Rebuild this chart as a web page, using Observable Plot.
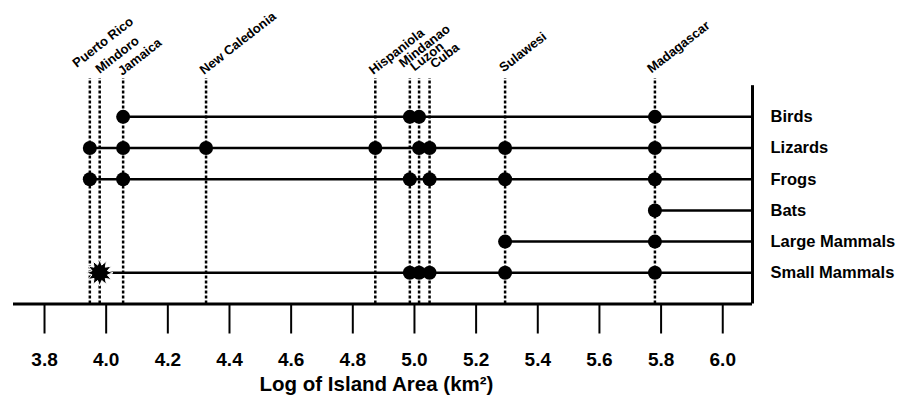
<!DOCTYPE html>
<html>
<head>
<meta charset="utf-8">
<script src="https://cdn.jsdelivr.net/npm/d3@7"></script>
<script src="https://cdn.jsdelivr.net/npm/@observablehq/plot@0.6"></script>
<style>
  html, body { margin: 0; padding: 0; background: #fff; }
  #chart { width: 909px; height: 405px; }
</style>
</head>
<body>
<div id="chart"></div>
<script>
// ---- data ----
const islands = ["Puerto Rico", "Mindoro", "Jamaica", "New Caledonia", "Hispaniola", "Mindanao", "Luzon", "Cuba", "Sulawesi", "Madagascar"];
const logArea = [3.947, 3.979, 4.055, 4.324, 4.873, 4.985, 5.015, 5.049, 5.294, 5.780];

const taxa = ["Birds", "Lizards", "Frogs", "Bats", "Large Mammals", "Small Mammals"];
const birds = ["Jamaica", "Mindanao", "Luzon", "Madagascar"];
const lizards = ["Puerto Rico", "Jamaica", "New Caledonia", "Hispaniola", "Luzon", "Cuba", "Sulawesi", "Madagascar"];
const frogs = ["Puerto Rico", "Jamaica", "Mindanao", "Cuba", "Sulawesi", "Madagascar"];
const bats = ["Madagascar"];
const largeMammals = ["Sulawesi", "Madagascar"];
const smallMammals = ["Mindoro", "Mindanao", "Luzon", "Cuba", "Sulawesi", "Madagascar"];
const smallMammalsStar = ["Mindoro"];

const xTicks = [3.8, 4.0, 4.2, 4.4, 4.6, 4.8, 5.0, 5.2, 5.4, 5.6, 5.8, 6.0];
const axisTitle = "Log of Island Area (km²)";

// ---- derived tables ----
const presence = [birds, lizards, frogs, bats, largeMammals, smallMammals];
const areaOf = new Map(islands.map((d, i) => [d, logArea[i]]));
const rowOf = (t) => taxa.length - taxa.indexOf(t);
const xDomain = [3.6994, 6.0965];
const yTop = 7.23;

const islandData = islands.map((name, i) => ({name, x: logArea[i]}));
const points = taxa.flatMap((t, i) => presence[i].map(isl => ({
  taxon: t, island: isl, x: areaOf.get(isl), y: rowOf(t),
  star: t === "Small Mammals" && smallMammalsStar.includes(isl)
})));
const rows = taxa.map((t, i) => ({
  taxon: t, y: rowOf(t),
  x1: d3.min(presence[i], isl => areaOf.get(isl)), x2: xDomain[1]
}));

// starburst symbol
const burst = {
  draw(ctx, size) {
    const R = Math.sqrt(size / Math.PI) * 1.9, r = R * 0.6, n = 12;
    for (let k = 0; k < 2 * n; k++) {
      const a = (k * Math.PI) / n - Math.PI / 2;
      const rr = k % 2 === 0 ? R : r;
      const px = rr * Math.cos(a), py = rr * Math.sin(a);
      if (k === 0) ctx.moveTo(px, py); else ctx.lineTo(px, py);
    }
    ctx.closePath();
  }
};

// label nudges (layout only)
const labelNudge = {
  "Puerto Rico": [-13, -10.5], "Mindoro": [0, -4.5], "Jamaica": [-1, -2.5],
  "Mindanao": [-6.6, -10.5], "Luzon": [-4.5, -7], "Cuba": [5, -9.5],
  "Sulawesi": [-1.5, -6], "Madagascar": [-3.5, -5]
};
const labelStyle = {x: "x", y: yTop, text: "name", rotate: -38, textAnchor: "start", lineAnchor: "bottom", fontSize: 13, fontWeight: "bold"};
const labelMarks = [
  Plot.text(islandData.filter(d => !(d.name in labelNudge)), {...labelStyle, dx: -2, dy: -3.5}),
  ...Object.entries(labelNudge).map(([name, [dx, dy]]) =>
    Plot.text(islandData.filter(d => d.name === name), {...labelStyle, dx, dy}))
];

const chart = Plot.plot({
  width: 909,
  height: 405,
  marginLeft: 13,
  marginRight: 157,
  marginTop: 78,
  marginBottom: 101.5,
  x: {domain: xDomain},
  y: {domain: [0, yTop]},
  style: {fontFamily: "'Liberation Sans', Arial, sans-serif", fontWeight: "bold", color: "black", background: "white"},
  marks: [
    Plot.ruleX(islandData, {x: "x", y1: 0, y2: yTop, stroke: "black", strokeWidth: 2.5, strokeDasharray: "3,2"}),
    Plot.ruleY(rows, {y: "y", x1: "x1", x2: "x2", stroke: "black", strokeWidth: 2.5}),
    Plot.ruleX([xDomain[1]], {y1: 0, y2: 7.0, stroke: "black", strokeWidth: 3}),
    Plot.ruleY([0], {stroke: "black", strokeWidth: 3}),
    Plot.dot(points.filter(d => !d.star), {x: "x", y: "y", r: 7, fill: "black"}),
    Plot.dot(points.filter(d => d.star), {x: "x", y: "y", r: 7, symbol: burst, fill: "black", stroke: "white", strokeWidth: 1}),
    Plot.axisX({ticks: xTicks, tickSize: 30, tickPadding: 18, tickFormat: d3.format(".1f"), fontSize: 19, fontWeight: "bold", strokeWidth: 2, label: null}),
    Plot.axisY({anchor: "right", ticks: [6, 5, 4, 3, 2, 1], tickSize: 0, tickPadding: 18,
      tickFormat: i => taxa[taxa.length - i], fontSize: 16.5, fontWeight: "bold", label: null}),
    ...labelMarks,
    Plot.text([axisTitle], {frameAnchor: "bottom", dx: -6.5, dy: 87, fontSize: 20.5, fontWeight: "bold"})
  ]
});
document.getElementById("chart").appendChild(chart);
</script>
</body>
</html>
